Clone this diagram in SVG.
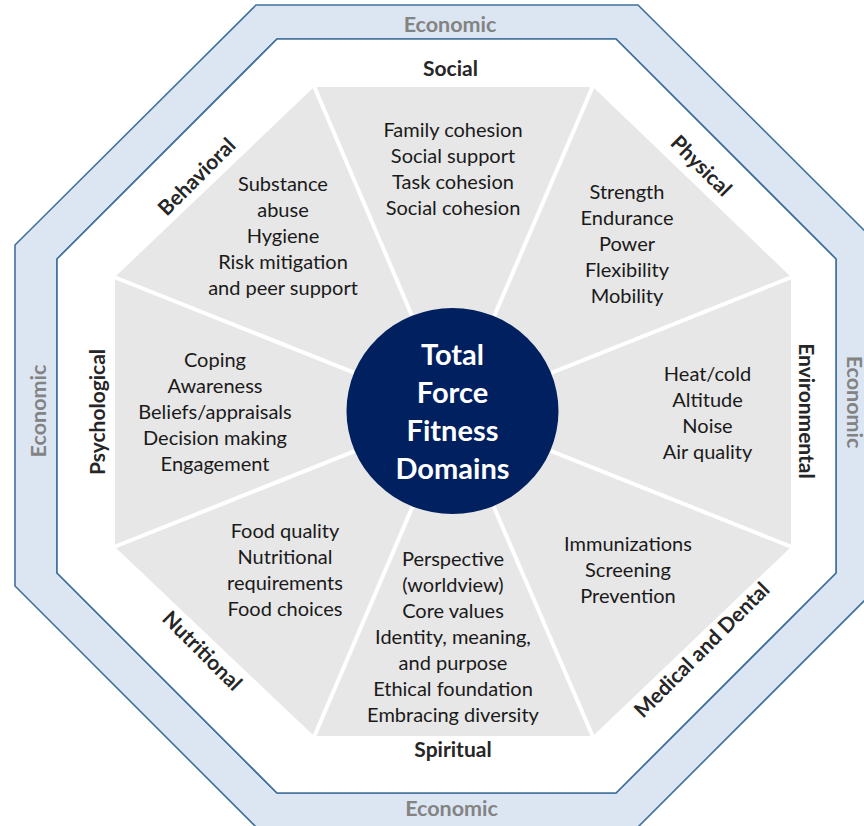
<svg xmlns="http://www.w3.org/2000/svg" width="864" height="826" viewBox="0 0 864 826">
  <style>
    .ring { fill: #dce6f2; stroke: #41719c; stroke-width: 1.6; fill-rule: evenodd; }
    .frame { fill: #ffffff; stroke: #41719c; stroke-width: 1.6; }
    .field { fill: #e7e7e7; }
    .divider { stroke: #ffffff; stroke-width: 4; stroke-linecap: butt; }
    .hub { fill: #002060; }
    text { font-family: Lato, "Open Sans", "Liberation Sans", sans-serif; text-anchor: middle; }
    .item { font-size: 20px; fill: #1a1a1a; }
    .domain { font-size: 21px; font-weight: bold; fill: #262626; }
    .econ { font-size: 21.5px; font-weight: bold; fill: #838383; }
    .hubtext { font-size: 29px; font-weight: bold; fill: #ffffff; }
  </style>

  <!-- Economic outer band -->
  <g id="economic">
    <path class="ring" d="M256,5 L638,5 L879,245 L879,586 L638,827 L256,827 L15,586 L15,245 Z
                          M277,39 L57,259 L57,573 L277,793 L616,793 L836,573 L836,259 L616,39 Z"/>
    <text class="econ" x="450" y="32">Economic</text>
    <text class="econ" x="451.5" y="816">Economic</text>
    <text class="econ" transform="translate(38,411) rotate(-90)" y="7.5">Economic</text>
    <text class="econ" transform="translate(854,402) rotate(90)" y="7.5">Economic</text>
  </g>

  <!-- white inner frame and grey field -->
  <polygon class="frame" points="277,39 616,39 836,259 836,573 616,793 277,793 57,573 57,259"/>
  <polygon class="field" points="314,87 593,87 791,277 791,547 593,736 314,736 115,547 115,277"/>

  <!-- spokes between domains -->
  <g id="connectors">
    <line class="divider" x1="453" y1="412" x2="314" y2="86"/>
    <line class="divider" x1="453" y1="412" x2="593" y2="86"/>
    <line class="divider" x1="453" y1="412" x2="792" y2="277"/>
    <line class="divider" x1="453" y1="412" x2="792" y2="547"/>
    <line class="divider" x1="453" y1="412" x2="593" y2="737"/>
    <line class="divider" x1="453" y1="412" x2="314" y2="737"/>
    <line class="divider" x1="453" y1="412" x2="114" y2="547"/>
    <line class="divider" x1="453" y1="412" x2="114" y2="277"/>
  </g>

  <g id="social">
    <text class="domain" x="450.5" y="76">Social</text>
    <text class="item" x="453" y="137">Family cohesion</text>
    <text class="item" x="453" y="163">Social support</text>
    <text class="item" x="453" y="189">Task cohesion</text>
    <text class="item" x="453" y="215">Social cohesion</text>
  </g>

  <g id="physical">
    <text class="domain" transform="translate(701,166) rotate(45)" y="7">Physical</text>
    <text class="item" x="627" y="199">Strength</text>
    <text class="item" x="627" y="225">Endurance</text>
    <text class="item" x="627" y="251">Power</text>
    <text class="item" x="627" y="277">Flexibility</text>
    <text class="item" x="627" y="303">Mobility</text>
  </g>

  <g id="environmental">
    <text class="domain" transform="translate(806,411) rotate(90)" y="7">Environmental</text>
    <text class="item" x="707.5" y="381">Heat/cold</text>
    <text class="item" x="707.5" y="407">Altitude</text>
    <text class="item" x="707.5" y="433">Noise</text>
    <text class="item" x="707.5" y="459">Air quality</text>
  </g>

  <g id="medical-dental">
    <text class="domain" transform="translate(702,650) rotate(-45)" y="7">Medical and Dental</text>
    <text class="item" x="628" y="551">Immunizations</text>
    <text class="item" x="628" y="577">Screening</text>
    <text class="item" x="628" y="603">Prevention</text>
  </g>

  <g id="spiritual">
    <text class="domain" x="453" y="757">Spiritual</text>
    <text class="item" x="453" y="566">Perspective</text>
    <text class="item" x="453" y="592">(worldview)</text>
    <text class="item" x="453" y="618">Core values</text>
    <text class="item" x="453" y="644">Identity, meaning,</text>
    <text class="item" x="453" y="670">and purpose</text>
    <text class="item" x="453" y="696">Ethical foundation</text>
    <text class="item" x="453" y="722">Embracing diversity</text>
  </g>

  <g id="nutritional">
    <text class="domain" transform="translate(202,651) rotate(45)" y="7">Nutritional</text>
    <text class="item" x="285" y="538">Food quality</text>
    <text class="item" x="285" y="564">Nutritional</text>
    <text class="item" x="285" y="590">requirements</text>
    <text class="item" x="285" y="616">Food choices</text>
  </g>

  <g id="psychological">
    <text class="domain" transform="translate(98,412) rotate(-90)" y="7">Psychological</text>
    <text class="item" x="215" y="367">Coping</text>
    <text class="item" x="215" y="393">Awareness</text>
    <text class="item" x="215" y="419">Beliefs/appraisals</text>
    <text class="item" x="215" y="445">Decision making</text>
    <text class="item" x="215" y="471">Engagement</text>
  </g>

  <g id="behavioral">
    <text class="domain" transform="translate(197,177) rotate(-45)" y="7">Behavioral</text>
    <text class="item" x="283" y="191">Substance</text>
    <text class="item" x="283" y="217">abuse</text>
    <text class="item" x="283" y="243">Hygiene</text>
    <text class="item" x="283" y="269">Risk mitigation</text>
    <text class="item" x="283" y="295">and peer support</text>
  </g>

  <g id="hub">
    <ellipse class="hub" cx="452.5" cy="411" rx="106" ry="103"/>
    <text class="hubtext" x="452.5" y="365">Total</text>
    <text class="hubtext" x="452.5" y="403">Force</text>
    <text class="hubtext" x="452.5" y="441">Fitness</text>
    <text class="hubtext" x="452.5" y="479">Domains</text>
  </g>
</svg>
